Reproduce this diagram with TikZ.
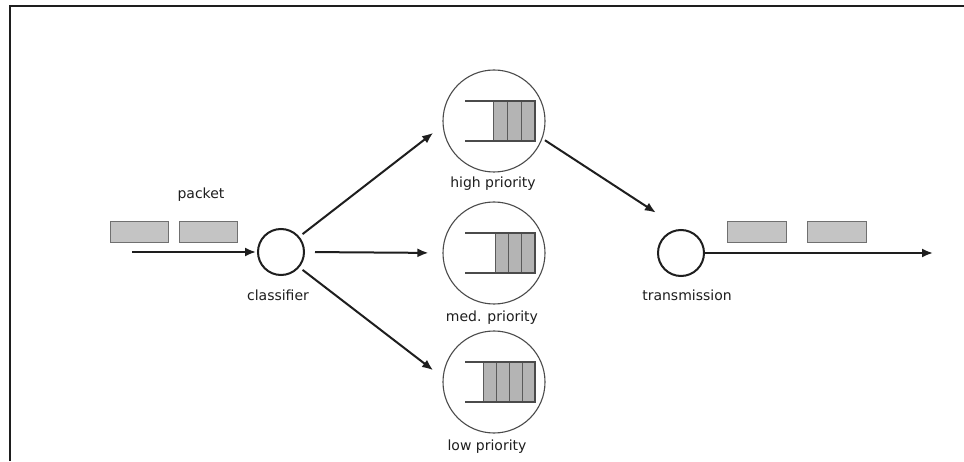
\documentclass[tikz,border=0pt]{standalone}
\usepackage{fontspec}
\setmainfont{DejaVu Sans}
\usetikzlibrary{arrows.meta}
\definecolor{pktfill}{HTML}{C4C4C4}
\definecolor{pktedge}{HTML}{707070}
\definecolor{cellfill}{HTML}{B4B4B4}
\definecolor{celledge}{HTML}{5A5A5A}
\definecolor{ink}{HTML}{1E1E1E}
\tikzset{
  arr/.style={line width=2pt, draw=ink, -{Latex[length=11pt,width=9pt]}},
  hub/.style={circle, draw=ink, line width=2pt, minimum size=46pt, inner sep=0pt},
  qring/.style={circle, draw=ink!80, line width=1.1pt, minimum size=102pt, inner sep=0pt},
  pkt/.style={draw=pktedge, fill=pktfill, line width=1pt},
  cell/.style={draw=celledge, fill=cellfill, line width=1pt},
  qrail/.style={draw=ink!80, line width=1.4pt},
  lbl/.style={text=ink, font=\fontsize{14}{16}\selectfont, inner sep=0pt}
}
% draws a queue: open rails from x=465 to 535, n cells ending at 535
\newcommand{\queueat}[3]{% #1 centre y, #2 first cell x, #3 number of cells
  \pgfmathsetmacro{\cw}{(535-#2)/#3}
  \foreach \k in {1,...,#3}{
    \pgfmathsetmacro{\xa}{#2+(\k-1)*\cw}
    \pgfmathsetmacro{\xb}{#2+\k*\cw}
    \path[cell] (\xa,#1-20) rectangle (\xb,#1+20);
  }
  \draw[qrail] (465,#1+20) -- (535,#1+20) -- (535,#1-20) -- (465,#1-20);
}
\begin{document}
\begin{tikzpicture}[x=1pt,y=1pt]
\useasboundingbox (0,0) rectangle (964,461);
\fill[white] (0,0) rectangle (964,461);

% frame
\draw[line width=1.8pt, ink] (10,0) -- (10,455) -- (964,455);

% classifier and transmission hubs
\node[hub] (cls) at (281,209) {};
\node[hub] (tx) at (681,208) {};
\node[lbl] (clsl) at (278,166) {classifier};
\node[lbl] (txl) at (687,166) {transmission};

% incoming packets
\draw[pkt] (110,218) rectangle (168,239);
\draw[pkt] (179,218) rectangle (237,239);
\node[lbl] (pktl) at (201,266) {packet};
\coordinate (in) at (132,209);
\draw[arr, shorten >=1pt] (in) -- (cls.west);

% priority queues
\node[qring] (hp) at (494,340) {};
\node[qring] (mp) at (494,208) {};
\node[qring] (lp) at (494,79) {};
\queueat{340}{493}{3}
\queueat{208}{495}{3}
\queueat{79}{483}{4}
\node[lbl] (hpl) at (493,277) {high priority};
\node[lbl] (mpl) at (492,143) {med. priority};
\node[lbl] (lpl) at (487,14) {low priority};

% classifier to queues
\draw[arr, shorten <=4pt, shorten >=12pt] (cls.40) -- (hp.185);
\draw[arr, shorten <=10pt, shorten >=14pt] (cls.east) -- (mp.west);
\draw[arr, shorten <=4pt, shorten >=12pt] (cls.-40) -- (lp.175);

% high priority queue served first
\draw[arr, shorten <=3pt, shorten >=30pt] (hp.-20) -- (tx.north);

% outgoing packets
\draw[pkt] (727,218) rectangle (786,239);
\draw[pkt] (807,218) rectangle (866,239);
\coordinate (out) at (933,208);
\draw[arr] (tx.east) -- (out);
\end{tikzpicture}
\end{document}
